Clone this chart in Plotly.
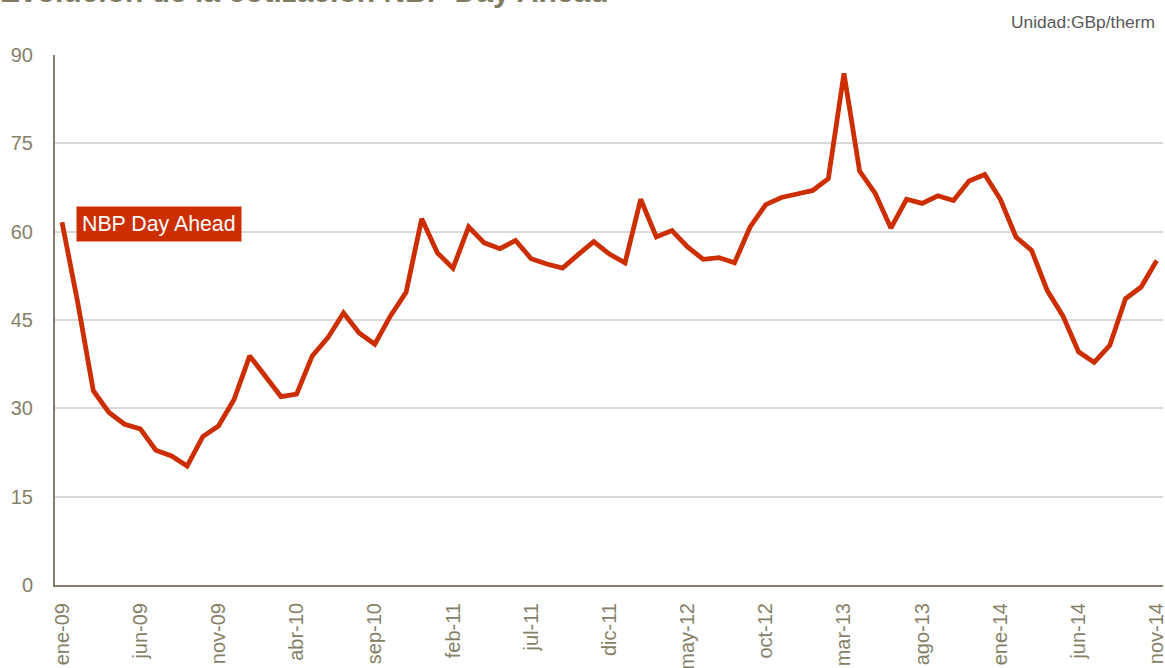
import plotly.graph_objects as go

# Monthly NBP Day Ahead prices, ene-09 .. nov-14 (GBp/therm)
meses = ["ene", "feb", "mar", "abr", "may", "jun", "jul", "ago", "sep", "oct", "nov", "dic"]
periodos = [f"{meses[m]}-{str(a)[2:]}" for a in range(2009, 2015) for m in range(12)][:71]

nbp_day_ahead = [
    61.6, 48.0, 33.0, 29.3, 27.3, 26.5, 22.9, 21.9, 20.2, 25.2, 27.0, 31.5,
    38.9, 35.5, 32.0, 32.4, 38.9, 42.0, 46.2, 42.8, 40.9, 45.7, 49.7, 62.2,
    56.4, 53.8, 60.8, 58.1, 57.1, 58.5, 55.4, 54.5, 53.8, 56.1, 58.3, 56.2,
    54.7, 65.5, 59.1, 60.2, 57.4, 55.3, 55.6, 54.7, 60.8, 64.6, 65.8, 66.4,
    67.0, 69.0, 86.9, 70.3, 66.5, 60.6, 65.5, 64.8, 66.1, 65.3, 68.6, 69.7,
    65.5, 59.1, 56.8, 50.0, 45.7, 39.6, 37.8, 40.7, 48.6, 50.6, 55.1,
]

tick_idx = list(range(0, 71, 5))
tick_txt = [periodos[i] for i in tick_idx]
y_ticks = [0, 15, 30, 45, 60, 75, 90]

ROJO = "#cc2e00"
OLIVA = "#857f68"
FUENTE = "Liberation Sans, Arial, sans-serif"

fig = go.Figure()
fig.add_trace(go.Scatter(
    x=list(range(len(nbp_day_ahead))),
    y=nbp_day_ahead,
    mode="lines",
    line=dict(color=ROJO, width=4.8),
    name="NBP Day Ahead",
    showlegend=False,
))

fig.update_layout(
    width=1165, height=668,
    margin=dict(l=55, r=2, t=55, b=83),
    paper_bgcolor="white",
    plot_bgcolor="white",
    font=dict(family=FUENTE, color=OLIVA),
    xaxis=dict(
        range=[-0.45, 70.4],
        tickmode="array",
        tickvals=tick_idx,
        ticktext=tick_txt,
        tickangle=-90,
        tickfont=dict(size=20, color=OLIVA),
        ticklabelstandoff=8,
        ticklabeloverflow="allow",
        showgrid=False,
        zeroline=False,
        showline=True,
        linecolor=OLIVA,
        linewidth=2,
        ticks="",
        automargin=False,
    ),
    yaxis=dict(
        range=[0, 90],
        tickmode="array",
        tickvals=y_ticks,
        tickfont=dict(size=20, color=OLIVA),
        ticklabelstandoff=16,
        showgrid=True,
        gridcolor="#d9d9d9",
        gridwidth=1.5,
        zeroline=False,
        showline=True,
        linecolor=OLIVA,
        linewidth=2,
        ticks="",
        automargin=False,
    ),
    annotations=[
        dict(
            text="<b>Evolución de la cotización NBP Day Ahead</b>",
            xref="paper", yref="paper", x=-55 / 1108, y=1,
            xanchor="left", yanchor="bottom", yshift=45, xshift=-2, showarrow=False,
            font=dict(size=30, color="#807a62", family=FUENTE),
        ),
        dict(
            text="Unidad:GBp/therm",
            xref="paper", yref="paper", x=1, y=1,
            xanchor="right", yanchor="bottom", yshift=21, xshift=-6, showarrow=False,
            font=dict(size=17.4, color="#595959", family=FUENTE),
        ),
        dict(
            text="NBP Day Ahead",
            xref="x", yref="y", x=0.9, y=(585 - 223.5) / 5.89,
            xanchor="left", yanchor="middle", showarrow=False,
            bgcolor=ROJO, borderpad=5,
            font=dict(size=21.3, color="white", family=FUENTE),
        ),
    ],
)

fig.write_html("out.html")
